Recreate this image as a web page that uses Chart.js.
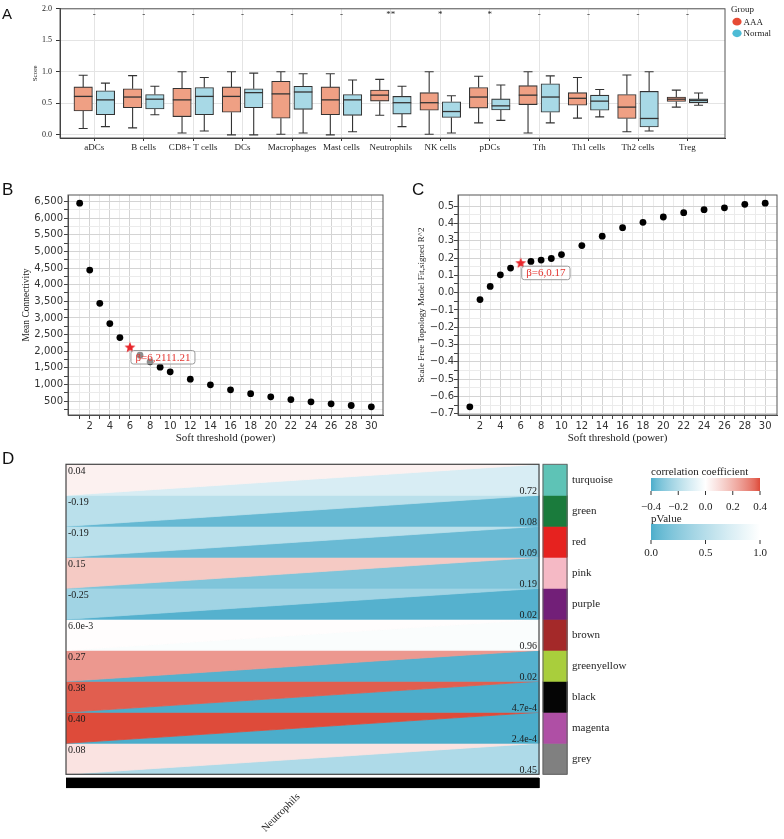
<!DOCTYPE html>
<html><head><meta charset="utf-8">
<script src="https://cdn.jsdelivr.net/npm/chart.js@4.4.1/dist/chart.umd.min.js"></script>
<style>
html,body{margin:0;padding:0;background:#fff;}
body{width:784px;height:839px;position:relative;overflow:hidden;}
.p{position:absolute;}
</style></head><body>
<div class="p" style="left:0;top:0;width:784px;height:160px"><canvas id="cA"></canvas></div>
<div class="p" style="left:0;top:440px;width:784px;height:399px"><canvas id="cD"></canvas></div>
<div class="p" style="left:0;top:160px;width:390px;height:285px"><canvas id="cB"></canvas></div>
<div class="p" style="left:390px;top:160px;width:394px;height:285px"><canvas id="cC"></canvas></div>
<script>
// ================= DATA =================
// Panel A : immune cell scores (box plot five-number summaries)
const categories = ['aDCs','B cells','CD8+ T cells','DCs','Macrophages','Mast cells','Neutrophils','NK cells','pDCs','Tfh','Th1 cells','Th2 cells','Treg'];
const aaaMin = [0.10,0.11,0.03,0.00,0.01,0.00,0.31,0.01,0.19,0.03,0.265,0.05,0.44];
const aaaQ1  = [0.38,0.43,0.29,0.36,0.265,0.32,0.535,0.39,0.425,0.48,0.47,0.26,0.53];
const aaaMed = [0.61,0.60,0.555,0.61,0.65,0.555,0.63,0.51,0.60,0.63,0.58,0.44,0.566];
const aaaQ3  = [0.76,0.73,0.74,0.76,0.85,0.76,0.71,0.67,0.75,0.78,0.67,0.64,0.60];
const aaaMax = [0.945,0.94,1.00,1.00,1.00,0.97,0.88,1.00,0.93,1.00,0.91,0.95,0.71];
const normMin = [0.13,0.32,0.06,0.00,0.03,0.05,0.13,0.03,0.23,0.19,0.285,0.06,0.47];
const normQ1  = [0.32,0.41,0.32,0.43,0.405,0.31,0.33,0.275,0.395,0.36,0.39,0.125,0.51];
const normMed = [0.555,0.566,0.61,0.67,0.68,0.555,0.51,0.37,0.46,0.60,0.535,0.26,0.545];
const normQ3  = [0.70,0.64,0.75,0.73,0.77,0.64,0.61,0.525,0.57,0.81,0.63,0.69,0.57];
const normMax = [0.82,0.77,0.91,0.98,0.97,0.87,0.77,0.62,0.79,0.935,0.72,1.00,0.665];
const significance = ['-','-','-','-','-','-','**','*','*','-','-','-','-'];
const scoreTicks = [0, 0.5, 1.0, 1.5, 2.0];
const groupNames = ['AAA','Normal'];

// Panel B / C : soft threshold analysis
const powers = [1,2,3,4,5,7,8,9,10,12,14,16,18,20,22,24,26,28,30];
const meanConnectivity = [6450,4440,3440,2830,2410,1880,1680,1520,1380,1160,990,840,725,630,548,480,418,368,328];
const scaleFreeFit = [-0.66,-0.04,0.036,0.103,0.142,0.18,0.188,0.197,0.22,0.272,0.326,0.375,0.406,0.437,0.462,0.479,0.49,0.51,0.517];
const bStar = [6, 2111.21];
const cStar = [6, 0.17];
const bStarLabel = 'β=6,2111.21';
const cStarLabel = 'β=6,0.17';
const powerTicks = [2,4,6,8,10,12,14,16,18,20,22,24,26,28,30];
const connectivityTicks = [500,1000,1500,2000,2500,3000,3500,4000,4500,5000,5500,6000,6500];
const fitTicks = [-0.7,-0.6,-0.5,-0.4,-0.3,-0.2,-0.1,0.0,0.1,0.2,0.3,0.4,0.5];

// Panel D : module-trait relationships
const modules = ['turquoise','green','red','pink','purple','brown','greenyellow','black','magenta','grey'];
const moduleColors = ['#5EC3B6','#1A7B3C','#E6221F','#F5B9C5','#721F78','#A42929','#A9CE3C','#050505','#AF4FA5','#808080'];
const corrValues = [0.04,-0.19,-0.19,0.15,-0.25,0.006,0.27,0.38,0.40,0.08];
const corrLabels = ['0.04','-0.19','-0.19','0.15','-0.25','6.0e-3','0.27','0.38','0.40','0.08'];
const pValues = [0.72,0.08,0.09,0.19,0.02,0.96,0.02,4.7e-4,2.4e-4,0.45];
const pLabels = ['0.72','0.08','0.09','0.19','0.02','0.96','0.02','4.7e-4','2.4e-4','0.45'];
const traitName = 'Neutrophils';
const corrLegendTicks = [-0.4,-0.2,0.0,0.2,0.4];
const pLegendTicks = [0.0,0.5,1.0];

// ================= STYLE =================
const SERIF = "'Liberation Serif','Times New Roman',serif";
const SANS = "'DejaVu Sans',sans-serif";
const LETTER = "'Liberation Sans',Arial,sans-serif";
Chart.defaults.animation = false;
Chart.defaults.events = [];
Chart.defaults.plugins.legend.display = false;
Chart.defaults.plugins.tooltip.enabled = false;
Chart.defaults.font.family = SERIF;
Chart.defaults.color = '#222';
Chart.defaults.responsive = true;
Chart.defaults.maintainAspectRatio = false;

function minusFmt(v, d){ const s = Math.abs(v).toFixed(d); return (v < -1e-9 ? '\u2212' : '') + s; }

// ================= PANEL A =================
const DODGE = 0.225, BOX_W = 18.5;
const boxGroups = [
  {name:groupNames[0], min:aaaMin, q1:aaaQ1, med:aaaMed, q3:aaaQ3, max:aaaMax, fill:'#EFA084', key:'#E64B35', off:-DODGE},
  {name:groupNames[1], min:normMin, q1:normQ1, med:normMed, q3:normQ3, max:normMax, fill:'#A8D9E6', key:'#4DBBD5', off:DODGE}
];
const boxPlugin = {
  id:'boxExtras',
  beforeDatasetsDraw(chart){
    const {ctx, scales:{x,y}} = chart;
    ctx.save(); ctx.strokeStyle='#333'; ctx.lineWidth=1.1;
    boxGroups.forEach(g=>{
      categories.forEach((c,i)=>{
        const px = x.getPixelForValue(i+g.off);
        ctx.beginPath();
        ctx.moveTo(px, y.getPixelForValue(g.min[i])); ctx.lineTo(px, y.getPixelForValue(g.q1[i]));
        ctx.moveTo(px, y.getPixelForValue(g.q3[i])); ctx.lineTo(px, y.getPixelForValue(g.max[i]));
        [g.min[i], g.max[i]].forEach(v=>{ const py=y.getPixelForValue(v); ctx.moveTo(px-4.5,py); ctx.lineTo(px+4.5,py); });
        ctx.stroke();
      });
    });
    ctx.restore();
  },
  afterDatasetsDraw(chart){
    const {ctx, chartArea:ca, scales:{x,y}} = chart;
    ctx.save(); ctx.strokeStyle='#333'; ctx.lineWidth=1.3;
    boxGroups.forEach(g=>{
      categories.forEach((c,i)=>{
        const px = x.getPixelForValue(i+g.off), py = y.getPixelForValue(g.med[i]);
        ctx.beginPath(); ctx.moveTo(px-BOX_W/2, py); ctx.lineTo(px+BOX_W/2, py); ctx.stroke();
      });
    });
    ctx.lineWidth=1; ctx.strokeStyle='#555';
    ctx.strokeRect(ca.left, ca.top, ca.width, ca.height);
    ctx.fillStyle='#222'; ctx.font='9px '+SERIF; ctx.textAlign='center'; ctx.textBaseline='middle';
    significance.forEach((s,i)=> ctx.fillText(s, x.getPixelForValue(i), y.getPixelForValue(1.9)));
    ctx.restore();
  },
  afterDraw(chart){
    const {ctx} = chart;
    ctx.save();
    ctx.fillStyle='#111'; ctx.font='15px '+LETTER; ctx.textAlign='left'; ctx.textBaseline='alphabetic';
    ctx.fillText('A', 2, 19);
    ctx.font='9px '+SERIF; ctx.fillStyle='#222'; ctx.textBaseline='middle';
    ctx.fillText('Group', 731, 10);
    boxGroups.forEach((g,k)=>{
      const cy = 21.7 + k*11.6;
      ctx.fillStyle=g.key; ctx.beginPath(); ctx.ellipse(737, cy, 4.6, 3.9, 0, 0, Math.PI*2); ctx.fill();
      ctx.fillStyle='#222'; ctx.fillText(g.name, 743.5, cy+0.5);
    });
    ctx.restore();
  }
};
new Chart(document.getElementById('cA'), {
  type:'bar',
  data:{ datasets: boxGroups.map(g=>({
    label:g.name,
    data: categories.map((c,i)=>({x:i+g.off, y:[g.q1[i], g.q3[i]]})),
    backgroundColor:g.fill, borderColor:'#333', borderWidth:1.1, borderSkipped:false,
    barThickness:BOX_W, grouped:false
  }))},
  options:{
    layout:{padding:{left:0, top:6.5, right:59, bottom:0}},
    scales:{
      x:{type:'linear', min:-0.694, max:12.76, offset:false,
        grid:{color:'#e4e4e4', offset:false, tickColor:'#333', tickLength:3},
        border:{color:'#333'},
        afterBuildTicks:s=>{ s.ticks = categories.map((c,i)=>({value:i})); },
        ticks:{autoSkip:false, maxRotation:0, minRotation:0, padding:1, color:'#222', font:{family:SERIF,size:9}, callback:v=>categories[v] ?? ''},
        afterFit:s=>{ s.height = 22; }},
      y:{type:'linear', min:-0.05, max:2.0,
        grid:{color:'#e4e4e4', tickColor:'#333', tickLength:4},
        border:{color:'#333'},
        afterBuildTicks:s=>{ s.ticks = scoreTicks.map(v=>({value:v})); },
        ticks:{padding:4, color:'#222', font:{family:SERIF,size:8}, callback:v=>Number(v).toFixed(1)},
        title:{display:true, text:'Score', color:'#222', font:{family:SERIF,size:7}, padding:{top:30.5,bottom:0}},
        afterFit:s=>{ s.width = 60; }}
    }
  },
  plugins:[boxPlugin]
});

// ================= PANELS B & C =================
function makeStar(r, color){
  const s = Math.ceil(r*2+2), c = document.createElement('canvas');
  c.width = s; c.height = s;
  const g = c.getContext('2d'); g.fillStyle = color; g.beginPath();
  for (let k=0;k<10;k++){ const a = -Math.PI/2 + k*Math.PI/5, rr = (k%2) ? r*0.42 : r; g.lineTo(s/2+rr*Math.cos(a), s/2+rr*Math.sin(a)); }
  g.closePath(); g.fill(); return c;
}
function scatterPanel(id, cfg){
  const starImg = makeStar(5.8, '#E8262B');
  const xAll = []; powerTicks.forEach(t=>{ xAll.push(t-1, t); });
  const yAll = []; cfg.yTicks.forEach(v=>{ const m = +(v - cfg.yHalf).toFixed(6); if (m > cfg.yMin) yAll.push(m); yAll.push(v); });
  const panelPlugin = {
    id:'panelExtras'+id,
    afterDraw(chart){
      const {ctx, chartArea:ca} = chart;
      ctx.save();
      ctx.strokeStyle='#555'; ctx.lineWidth=1; ctx.strokeRect(ca.left, ca.top, ca.width, ca.height);
      ctx.fillStyle='#111'; ctx.font='17px '+LETTER; ctx.textAlign='left'; ctx.textBaseline='alphabetic';
      ctx.fillText(cfg.letter, cfg.letterX, 35);
      const el = chart.getDatasetMeta(1).data[0];
      ctx.font='11px '+SERIF;
      const tw = ctx.measureText(cfg.label).width;
      const bx = el.x + 1, by = el.y + 3, bw = tw + 9, bh = 13.5;
      ctx.beginPath(); ctx.roundRect(bx, by, bw, bh, 2.5);
      ctx.fillStyle='rgba(255,255,255,0.55)'; ctx.fill();
      ctx.strokeStyle='#9a9a9a'; ctx.lineWidth=1; ctx.stroke();
      ctx.fillStyle='#E3342F'; ctx.textBaseline='middle';
      ctx.fillText(cfg.label, bx+4.5, by+bh/2+0.5);
      ctx.restore();
    }
  };
  new Chart(document.getElementById(id), {
    type:'scatter',
    data:{datasets:[
      {data: powers.map((p,i)=>({x:p, y:cfg.ys[i]})), pointRadius:3.4, pointBackgroundColor:'#000', pointBorderWidth:0},
      {data:[{x:cfg.star[0], y:cfg.star[1]}], pointStyle:starImg, pointRadius:6}
    ]},
    options:{
      layout:{padding:{left:0, top:35, right:2, bottom:0}},
      scales:{
        x:{type:'linear', min:-0.16, max:31.16,
          grid:{color:c=>(c.tick && powerTicks.includes(c.tick.value)) ? '#d4d4d4' : '#ebebeb', tickColor:'#444', tickLength:4},
          border:{color:'#444'},
          afterBuildTicks:s=>{ s.ticks = xAll.map(v=>({value:v})); },
          ticks:{autoSkip:false, maxRotation:0, minRotation:0, padding:1, color:'#333', font:{family:SANS,size:10}, callback:v=>powerTicks.includes(v) ? String(v) : ''},
          title:{display:true, text:'Soft threshold (power)', color:'#222', font:{family:SERIF,size:11}, padding:{top:0,bottom:0}},
          afterFit:s=>{ s.height = 30; }},
        y:{type:'linear', min:cfg.yMin, max:cfg.yMax,
          grid:{color:c=>(c.tick && cfg.yTicks.includes(c.tick.value)) ? '#d4d4d4' : '#ebebeb', tickColor:'#444', tickLength:4},
          border:{color:'#444'},
          afterBuildTicks:s=>{ s.ticks = yAll.map(v=>({value:v})); },
          ticks:{autoSkip:false, padding:cfg.tickPad, color:'#333', font:{family:SANS,size:10}, callback:v=>cfg.yTicks.includes(v) ? cfg.fmt(v) : ''},
          title:{display:true, text:cfg.yTitle, color:'#222', font:{family:SERIF,size:cfg.yTitleSize}, padding:{top:cfg.yTitlePad,bottom:0}},
          afterFit:s=>{ s.width = 68; }}
      }
    },
    plugins:[panelPlugin]
  });
}
scatterPanel('cB', {ys:meanConnectivity, star:bStar, label:bStarLabel, yMin:83, yMax:6695, yTicks:connectivityTicks, yHalf:250,
  fmt:v=>v.toLocaleString('en-US'), yTitle:'Mean Connectivity', yTitleSize:9.5, yTitlePad:20.3, tickPad:1, letter:'B', letterX:2});
scatterPanel('cC', {ys:scaleFreeFit, star:cStar, label:cStarLabel, yMin:-0.707, yMax:0.564, yTicks:fitTicks, yHalf:0.05,
  fmt:v=>minusFmt(v,1), yTitle:'Scale Free Topology Model Fit,signed R^2', yTitleSize:9, yTitlePad:26.3, tickPad:0, letter:'C', letterX:22});

// ================= PANEL D =================
const BLUE = [75,173,203], RED = [222,75,58];
const CORR_LIM = 0.4;
function mixWhite(c, w){ return 'rgb(' + c.map(v=>Math.round(v + (255-v)*w)).join(',') + ')'; }
function corrColor(v){ const t = Math.max(-1, Math.min(1, v/CORR_LIM)); return mixWhite(t>=0 ? RED : BLUE, Math.pow(1-Math.abs(t), 0.75)); }
function pColor(p){ return mixWhite(BLUE, Math.pow(Math.max(0, Math.min(1, p)), 0.75)); }
const X_MAX = 1.0613, COL_X0 = 1.0085, COL_X1 = 1.0592, BAR_Y0 = 10.12, BAR_Y1 = 10.44, Y_MAX = 10.45;
function poly(pts, color){
  return {data:pts.map(([x,y])=>({x,y})), showLine:true, fill:'shape', backgroundColor:color, borderColor:color, borderWidth:0.8, pointRadius:0, tension:0};
}
const dSets = [];
modules.forEach((m,i)=>{
  dSets.push(poly([[0,i],[1,i],[0,i+1],[0,i]], corrColor(corrValues[i])));
  dSets.push(poly([[1,i],[1,i+1],[0,i+1],[1,i]], pColor(pValues[i])));
  dSets.push(poly([[COL_X0,i],[COL_X1,i],[COL_X1,i+1],[COL_X0,i+1],[COL_X0,i]], moduleColors[i]));
});
dSets.push(poly([[0,BAR_Y0],[1,BAR_Y0],[1,BAR_Y1],[0,BAR_Y1],[0,BAR_Y0]], '#000'));

function colorBar(ctx, x0, x1, y0, y1, vmin, vmax, fn, ticks, fmt, labelY){
  const grad = ctx.createLinearGradient(x0, 0, x1, 0);
  for (let k=0;k<=20;k++){ const v = vmin + (vmax-vmin)*k/20; grad.addColorStop(k/20, fn(v)); }
  ctx.fillStyle = grad; ctx.fillRect(x0, y0, x1-x0, y1-y0);
  ctx.strokeStyle='#333'; ctx.lineWidth=1; ctx.fillStyle='#222';
  ctx.font='11px '+SERIF; ctx.textAlign='center'; ctx.textBaseline='middle';
  ticks.forEach(v=>{
    const px = x0 + (v-vmin)/(vmax-vmin)*(x1-x0);
    ctx.beginPath(); ctx.moveTo(px, y1); ctx.lineTo(px, y1+4); ctx.stroke();
    ctx.fillText(fmt(v), px, labelY);
  });
}
const dPlugin = {
  id:'dExtras',
  afterDatasetsDraw(chart){
    const {ctx, scales:{x,y}} = chart;
    ctx.save();
    ctx.strokeStyle='#444'; ctx.lineWidth=1.2;
    ctx.strokeRect(x.getPixelForValue(0), y.getPixelForValue(0), x.getPixelForValue(1)-x.getPixelForValue(0), y.getPixelForValue(modules.length)-y.getPixelForValue(0));
    ctx.strokeStyle='#666'; ctx.lineWidth=1;
    ctx.strokeRect(x.getPixelForValue(COL_X0), y.getPixelForValue(0), x.getPixelForValue(COL_X1)-x.getPixelForValue(COL_X0), y.getPixelForValue(modules.length)-y.getPixelForValue(0));
    ctx.fillStyle='#1a1a1a'; ctx.font='10px '+SERIF;
    modules.forEach((m,i)=>{
      ctx.textAlign='left'; ctx.textBaseline='top';
      ctx.fillText(corrLabels[i], x.getPixelForValue(0)+2, y.getPixelForValue(i)+2);
      ctx.textAlign='right'; ctx.textBaseline='alphabetic';
      ctx.fillText(pLabels[i], x.getPixelForValue(1)-2, y.getPixelForValue(i+1)-1.5);
    });
    ctx.font='11px '+SERIF; ctx.textAlign='left'; ctx.textBaseline='middle'; ctx.fillStyle='#222';
    modules.forEach((m,i)=> ctx.fillText(m, x.getPixelForValue(COL_X1)+5, y.getPixelForValue(i+0.5)));
    ctx.save();
    ctx.translate(x.getPixelForValue(0.5)-4, y.getPixelForValue(Y_MAX)+7);
    ctx.rotate(-Math.PI/4); ctx.font='10.5px '+SERIF; ctx.textAlign='right'; ctx.textBaseline='middle';
    ctx.fillText(traitName, 0, 0);
    ctx.restore();
    ctx.restore();
  },
  afterDraw(chart){
    const {ctx} = chart;
    ctx.save();
    ctx.fillStyle='#111'; ctx.font='17px '+LETTER; ctx.textAlign='left'; ctx.textBaseline='alphabetic';
    ctx.fillText('D', 2, 23.5);
    ctx.font='11px '+SERIF; ctx.fillStyle='#222'; ctx.textBaseline='middle';
    ctx.fillText('correlation coefficient', 651, 32);
    colorBar(ctx, 651, 760, 38, 51, -CORR_LIM, CORR_LIM, corrColor, corrLegendTicks, v=>minusFmt(v,1), 67);
    ctx.textAlign='left'; ctx.fillStyle='#222'; ctx.font='11px '+SERIF;
    ctx.fillText('pValue', 651, 79);
    colorBar(ctx, 651, 760, 84, 100, 0, 1, pColor, pLegendTicks, v=>v.toFixed(1), 113);
    ctx.restore();
  }
};
new Chart(document.getElementById('cD'), {
  type:'scatter',
  data:{datasets:dSets},
  options:{
    layout:{padding:{left:66, right:216, top:24.3, bottom:50.75}},
    scales:{
      x:{type:'linear', display:false, min:0, max:X_MAX},
      y:{type:'linear', display:false, min:0, max:Y_MAX, reverse:true}
    }
  },
  plugins:[dPlugin]
});
</script></body></html>
